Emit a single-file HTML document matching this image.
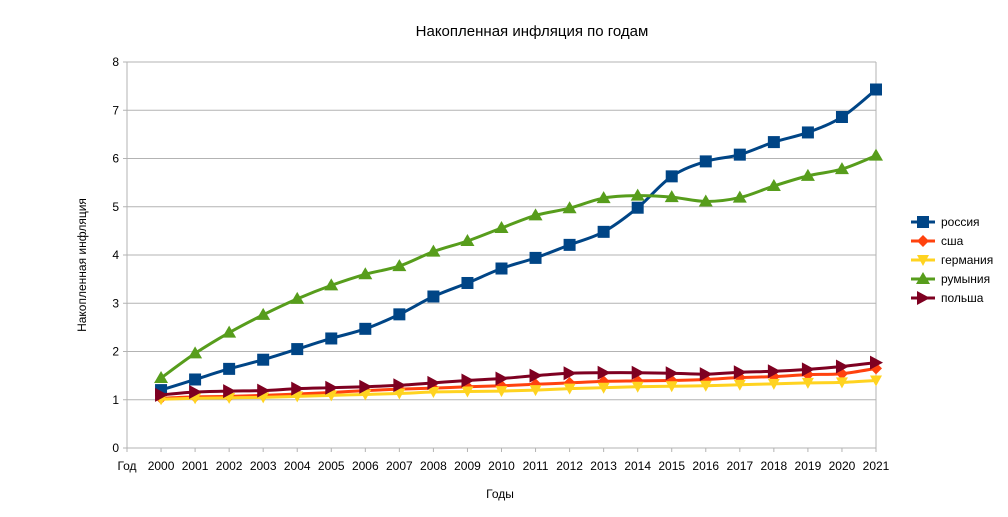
<!DOCTYPE html>
<html><head><meta charset="utf-8"><style>
body{margin:0;background:#fff;font-family:"Liberation Sans",sans-serif}
text{font-family:"Liberation Sans","DejaVu Sans",sans-serif}
</style></head><body>
<svg id="chart" width="1008" height="512" viewBox="0 0 1008 512" xmlns="http://www.w3.org/2000/svg">
<text x="532" y="36" font-size="15" text-anchor="middle">Накопленная инфляция по годам</text>
<g id="grid"></g><g id="axes"></g><g id="series"></g><g id="legend"></g>
<text transform="translate(86,265) rotate(-90)" font-size="12" text-anchor="middle">Накопленная инфляция</text>
<text x="500" y="498" font-size="12" text-anchor="middle">Годы</text>
</svg>
<script>
const categories=["Год","2000","2001","2002","2003","2004","2005","2006","2007","2008","2009","2010","2011","2012","2013","2014","2015","2016","2017","2018","2019","2020","2021"];
const yTicks=[0,1,2,3,4,5,6,7,8];
const seriesNames=["россия","сша","германия","румыния","польша"];
const russia=[null,1.2,1.42,1.64,1.83,2.05,2.27,2.47,2.77,3.14,3.42,3.72,3.94,4.21,4.48,4.98,5.63,5.94,6.08,6.34,6.54,6.86,7.43];
const usa=[null,1.03,1.06,1.07,1.09,1.12,1.15,1.19,1.22,1.24,1.27,1.29,1.32,1.35,1.38,1.39,1.40,1.42,1.46,1.48,1.52,1.54,1.65];
const germany=[null,1.01,1.03,1.04,1.05,1.07,1.09,1.11,1.13,1.16,1.17,1.18,1.20,1.23,1.25,1.27,1.28,1.29,1.31,1.33,1.35,1.36,1.40];
const romania=[null,1.45,1.96,2.39,2.76,3.09,3.37,3.60,3.77,4.07,4.29,4.56,4.82,4.97,5.18,5.23,5.20,5.11,5.19,5.43,5.64,5.78,6.06];
const poland=[null,1.10,1.16,1.18,1.19,1.23,1.25,1.27,1.30,1.35,1.40,1.44,1.50,1.55,1.56,1.56,1.55,1.53,1.57,1.59,1.63,1.69,1.77];
const NS="http://www.w3.org/2000/svg";
const X0=127,X1=876,Y0=448,Y1=62;
const xs=i=>X0+(X1-X0)*i/(categories.length-1);
const ys=v=>Y0-(Y0-Y1)*v/8;
function mk(t,a,p){const e=document.createElementNS(NS,t);for(const k in a)e.setAttribute(k,a[k]);p.appendChild(e);return e;}
const grid=document.getElementById('grid'),axes=document.getElementById('axes');
yTicks.forEach(v=>{
 const l=mk('line',{x1:X0-4,x2:X1,y1:ys(v),y2:ys(v),stroke:'#b3b3b3','stroke-width':1},grid);
 
 
 const t=mk('text',{x:X0-8,y:ys(v)+4,'font-size':12,'text-anchor':'end'},axes);t.textContent=v;
 
 
});
mk('line',{x1:X0,x2:X0,y1:Y1,y2:Y0,stroke:'#b3b3b3'},grid);
mk('line',{x1:X1,x2:X1,y1:Y1,y2:Y0,stroke:'#b3b3b3'},grid);
categories.forEach((c,i)=>{
 mk('line',{x1:xs(i),x2:xs(i),y1:Y0,y2:Y0+4,stroke:'#b3b3b3'},grid);
 const t=mk('text',{x:xs(i),y:Y0+22,'font-size':12,'text-anchor':'middle'},axes);t.textContent=c;
 
 
});
const colors=['#004586','#ff420e','#ffd320','#579d1c','#7e0021'];
const data=[russia,usa,germany,romania,poland];
function marker(k,x,y,p){
 const c=colors[k];
 if(k==0)return mk('rect',{x:x-6,y:y-6,width:12,height:12,fill:c},p);
 if(k==1)return mk('polygon',{points:`${x},${y-6} ${x+6},${y} ${x},${y+6} ${x-6},${y}`,fill:c},p);
 if(k==2)return mk('polygon',{points:`${x-6},${y-5} ${x+6},${y-5} ${x},${y+6}`,fill:c},p);
 if(k==3)return mk('polygon',{points:`${x-7},${y+5} ${x+7},${y+5} ${x},${y-7}`,fill:c},p);
 return mk('polygon',{points:`${x-6},${y-7} ${x+7},${y} ${x-6},${y+7}`,fill:c},p);
}
const sg=document.getElementById('series');
data.forEach((arr,k)=>{
 const pts=[];arr.forEach((v,i)=>{if(v!=null)pts.push([xs(i),ys(v)]);});
 let d=`M${pts[0][0]},${pts[0][1]}`;
 for(let i=0;i<pts.length-1;i++){
  const p0=pts[Math.max(0,i-1)],p1=pts[i],p2=pts[i+1],p3=pts[Math.min(pts.length-1,i+2)];
  d+=` C${p1[0]+(p2[0]-p0[0])/6},${p1[1]+(p2[1]-p0[1])/6} ${p2[0]-(p3[0]-p1[0])/6},${p2[1]-(p3[1]-p1[1])/6} ${p2[0]},${p2[1]}`;
 }
 const g=mk('g',{},sg);
 
 
 mk('path',{d:d,fill:'none',stroke:colors[k],'stroke-width':3},g);
 pts.forEach(p=>{const m=marker(k,p[0],p[1],g);
  
  });
});
const lg=document.getElementById('legend');
seriesNames.forEach((n,k)=>{
 const y=222+k*19;
 const g=mk('g',{},lg);
 
 
 mk('line',{x1:911,x2:935,y1:y,y2:y,stroke:colors[k],'stroke-width':3},g);
 marker(k,923,y,g);
 const t=mk('text',{x:941,y:y+4,'font-size':12},g);t.textContent=n;
});
</script>
</body></html>
